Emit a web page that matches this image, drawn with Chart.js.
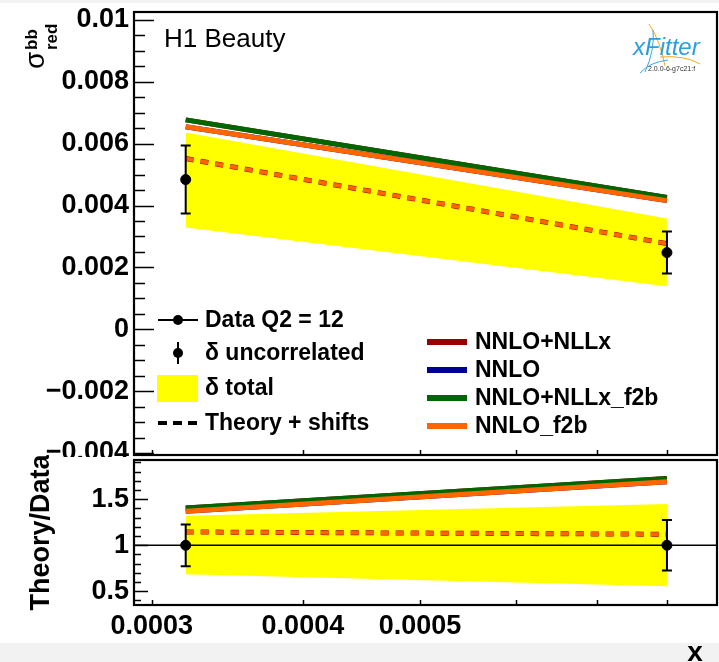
<!DOCTYPE html>
<html><head><meta charset="utf-8">
<script src="https://cdn.jsdelivr.net/npm/chart.js@4.4.1/dist/chart.umd.min.js"></script>
<style>
html,body{margin:0;padding:0;background:#fff;width:719px;height:662px;overflow:hidden;position:relative}
#topband{position:absolute;left:0;top:0;width:719px;height:3px;background:#f3f3f3}
#botband{position:absolute;left:0;top:643px;width:719px;height:19px;background:#f2f2f2}
canvas{position:absolute;left:0}
#c1{top:0;width:719px;height:457px}
#c2{top:455px;width:719px;height:207px}
</style></head><body>
<div id="topband"></div><div id="botband"></div>
<canvas id="c1" width="719" height="457"></canvas>
<canvas id="c2" width="719" height="207"></canvas>
<script>
const FONT = '"Liberation Sans", Arial, Helvetica, sans-serif';

// ---- data ----
const xValues = [0.00032, 0.0008];
const xTickValues = [0.0003, 0.0004, 0.0005, 0.0006, 0.0007, 0.0008];
const xTickLabels = ['0.0003', '0.0004', '0.0005', '', '', ''];
const yTickValuesTop = [-0.004, -0.002, 0, 0.002, 0.004, 0.006, 0.008, 0.01];
const yTickLabelsTop = ['\u22120.004', '\u22120.002', '0', '0.002', '0.004', '0.006', '0.008', '0.01'];
const yTickValuesRatio = [0.5, 1, 1.5];
const yTickLabelsRatio = ['0.5', '1', '1.5'];

const dataTop = [0.00484, 0.00248];
const uncTop = [0.00110, 0.00068];
const totHiTop = [0.00636, 0.00358];
const totLoTop = [0.00329, 0.00139];
const shiftTop = [0.00552, 0.00277];
const nnloNllxTop = [0.00677, 0.00426];
const nnloTop = [0.00655, 0.00416];
const nnloNllxF2bTop = [0.00677, 0.00426];
const nnloF2bTop = [0.00655, 0.00416];

const dataRatio = [1, 1];
const uncRatio = [0.227, 0.274];
const totHiRatio = [1.322, 1.45];
const totLoRatio = [0.685, 0.556];
const shiftRatio = [1.145, 1.12];
const nnloNllxRatio = [1.405, 1.725];
const nnloRatio = [1.37, 1.69];
const nnloNllxF2bRatio = [1.405, 1.725];
const nnloF2bRatio = [1.37, 1.69];

const C_RED = '#990000', C_BLUE = '#000099', C_GREEN = '#006600', C_ORANGE = '#ff6600', C_YELLOW = '#ffff00';

function pts(arr) { return xValues.map((x, i) => ({ x: x, y: arr[i] })); }

function makeDatasets(S) {
  const line = (label, arr, color, w, order, dash) => ({
    label, data: pts(arr), borderColor: color, borderWidth: w, pointRadius: 0,
    fill: false, order, borderDash: dash || [], borderCapStyle: 'butt', tension: 0
  });
  return [
    { label: '\u03b4 total', data: pts(S.hi), borderWidth: 0, pointRadius: 0, backgroundColor: C_YELLOW, fill: '+1', order: 20 },
    { label: '\u03b4 total (low)', data: pts(S.lo), borderWidth: 0, pointRadius: 0, fill: false, order: 21 },
    line('NNLO+NLLx', S.a, C_RED, 5, 9),
    line('NNLO', S.b, C_BLUE, 5, 8),
    line('NNLO+NLLx_f2b', S.c, C_GREEN, 5, 7),
    line('NNLO_f2b', S.d, C_ORANGE, 5, 6),
    line('Theory + shifts (NNLO+NLLx)', S.shift, C_RED, 5, 3, [8, 7]),
    line('Theory + shifts (NNLO_f2b)', S.shift, C_ORANGE, 4, 2, [8, 7]),
    { label: 'Data Q2 = 12', data: pts(S.data), showLine: false, pointRadius: 5, pointHoverRadius: 5,
      pointBackgroundColor: '#000', pointBorderColor: '#000', borderColor: '#000', order: 0 }
  ];
}

function labelFrom(values, labels) {
  return (v) => { const i = values.findIndex(t => Math.abs(t - v) < 1e-9); return i >= 0 ? labels[i] : ''; };
}

function axesPlugin(majorLen, minorLen, S, drawOne) {
  return {
    id: 'rootAxes',
    afterDatasetsDraw(chart) {
      const { ctx, chartArea: a, scales: { x, y } } = chart;
      ctx.save();
      ctx.beginPath(); ctx.rect(a.left, a.top, a.width, a.height); ctx.clip();
      if (drawOne) {
        const p = y.getPixelForValue(1);
        ctx.strokeStyle = '#000'; ctx.lineWidth = 1.5;
        ctx.beginPath(); ctx.moveTo(a.left, p); ctx.lineTo(a.right, p); ctx.stroke();
      }
      ctx.restore();
      ctx.save();
      ctx.strokeStyle = '#000'; ctx.lineWidth = 2;
      xValues.forEach((xv, i) => {
        const px = x.getPixelForValue(xv);
        const p1 = y.getPixelForValue(S.data[i] + S.unc[i]);
        const p2 = y.getPixelForValue(S.data[i] - S.unc[i]);
        ctx.beginPath();
        ctx.moveTo(px, p1); ctx.lineTo(px, p2);
        ctx.moveTo(px - 5, p1); ctx.lineTo(px + 5, p1);
        ctx.moveTo(px - 5, p2); ctx.lineTo(px + 5, p2);
        ctx.stroke();
      });
      ctx.restore();
    },
    afterDraw(chart) {
      const { ctx, chartArea: a, scales: { x, y } } = chart;
      ctx.save();
      ctx.strokeStyle = '#000'; ctx.lineWidth = 1.5;
      y.ticks.forEach((t) => {
        const py = Math.round(y.getPixelForValue(t.value)) + 0.5;
        const major = t.label !== '' && t.label !== undefined;
        const len = major ? majorLen : minorLen;
        ctx.beginPath(); ctx.moveTo(a.left, py); ctx.lineTo(a.left + len, py); ctx.stroke();
      });
      x.ticks.forEach((t) => {
        const px = Math.round(x.getPixelForValue(t.value)) + 0.5;
        ctx.beginPath(); ctx.moveTo(px, a.bottom); ctx.lineTo(px, a.bottom - 5); ctx.stroke();
      });
      ctx.lineWidth = 2.2;
      ctx.strokeRect(a.left, a.top, a.width, a.height);
      ctx.restore();
    }
  };
}

const topDecor = {
  id: 'topDecor',
  afterDraw(chart) {
    const ctx = chart.ctx;
    ctx.save();
    ctx.fillStyle = '#000';
    ctx.textBaseline = 'alphabetic';
    ctx.textAlign = 'left';
    ctx.font = '26px ' + FONT;
    ctx.fillText('H1 Beauty', 164, 47);

    // y-axis title: sigma^bb_red, rotated
    ctx.save();
    ctx.translate(44, 69);
    ctx.rotate(-Math.PI / 2);
    ctx.font = '28px ' + FONT;
    ctx.fillText('\u03c3', 0, 0);
    ctx.font = 'bold 17px ' + FONT;
    ctx.fillText('bb', 19, -7);
    ctx.fillText('red', 19, 13);
    ctx.restore();

    // legend, left column
    ctx.font = 'bold 23px ' + FONT;
    ctx.textBaseline = 'middle';
    ctx.strokeStyle = '#000';
    ctx.lineWidth = 2;
    ctx.beginPath(); ctx.moveTo(158, 320); ctx.lineTo(198, 320); ctx.stroke();
    ctx.beginPath(); ctx.arc(178, 320, 5, 0, 2 * Math.PI); ctx.fill();
    ctx.fillText('Data Q2 = 12', 205, 321);

    ctx.beginPath(); ctx.moveTo(178, 342); ctx.lineTo(178, 364); ctx.stroke();
    ctx.beginPath(); ctx.arc(178, 353, 5, 0, 2 * Math.PI); ctx.fill();
    ctx.fillText('\u03b4 uncorrelated', 205, 354);

    ctx.fillStyle = C_YELLOW;
    ctx.fillRect(157, 375, 41, 27);
    ctx.fillStyle = '#000';
    ctx.fillText('\u03b4 total', 205, 389);

    ctx.lineWidth = 4; ctx.setLineDash([9, 6]);
    ctx.beginPath(); ctx.moveTo(158, 423); ctx.lineTo(200, 423); ctx.stroke();
    ctx.setLineDash([]);
    ctx.fillText('Theory + shifts', 205, 424);

    // legend, right column
    const rc = [[C_RED, 'NNLO+NLLx', 342], [C_BLUE, 'NNLO', 370], [C_GREEN, 'NNLO+NLLx_f2b', 398], [C_ORANGE, 'NNLO_f2b', 426]];
    rc.forEach(([c, t, yy]) => {
      ctx.strokeStyle = c; ctx.lineWidth = 6;
      ctx.beginPath(); ctx.moveTo(427, yy); ctx.lineTo(467, yy); ctx.stroke();
      ctx.fillStyle = '#000';
      ctx.fillText(t, 475, yy + 1);
    });

    // xFitter logo
    ctx.lineWidth = 1;
    ctx.strokeStyle = '#f5a623';
    ctx.beginPath(); ctx.moveTo(649, 24); ctx.quadraticCurveTo(660, 40, 665, 66); ctx.stroke();
    ctx.beginPath(); ctx.moveTo(660, 57); ctx.quadraticCurveTo(685, 55, 700, 64); ctx.stroke();
    ctx.strokeStyle = '#3aa6e0';
    ctx.beginPath(); ctx.moveTo(653, 30); ctx.quadraticCurveTo(655, 50, 645, 72); ctx.stroke();
    ctx.beginPath(); ctx.moveTo(640, 73); ctx.quadraticCurveTo(650, 62, 668, 60); ctx.stroke();
    ctx.textBaseline = 'alphabetic';
    ctx.font = 'italic 24px ' + FONT;
    ctx.fillStyle = '#2a9fe0';
    ctx.fillText('xFitter', 633, 55);
    ctx.font = '7px ' + FONT;
    ctx.fillStyle = '#333';
    ctx.fillText('2.0.0-6-g7c21:f', 648, 71);
    ctx.restore();
  }
};

const botDecor = {
  id: 'botDecor',
  afterDraw(chart) {
    const ctx = chart.ctx;
    ctx.save();
    ctx.fillStyle = '#000';
    ctx.font = 'bold 28px ' + FONT;
    ctx.textAlign = 'center';
    ctx.textBaseline = 'alphabetic';
    ctx.fillText('x', 695, 206);
    ctx.restore();
  }
};

function noPad(s) { s.paddingTop = 0; s.paddingBottom = 0; s.paddingLeft = 0; s.paddingRight = 0; }

function xScale(showLabels, h) {
  return {
    type: 'logarithmic', position: 'bottom', min: 0.00029, max: 0.00088,
    grid: { display: false, drawTicks: false }, border: { display: false },
    afterBuildTicks: s => { s.ticks = xTickValues.map(v => ({ value: v })); },
    ticks: {
      display: showLabels, autoSkip: false, maxRotation: 0, padding: 5, color: '#000',
      font: { family: FONT, size: 27, weight: 'bold' },
      callback: labelFrom(xTickValues, xTickLabels)
    },
    afterFit: s => { s.height = h; noPad(s); }
  };
}

Chart.defaults.font.family = FONT;

new Chart(document.getElementById('c1'), {
  type: 'line',
  data: { datasets: makeDatasets({ hi: totHiTop, lo: totLoTop, a: nnloNllxTop, b: nnloTop, c: nnloNllxF2bTop, d: nnloF2bTop, shift: shiftTop, data: dataTop }) },
  options: {
    responsive: false, animation: false, devicePixelRatio: 1,
    layout: { autoPadding: false, padding: { top: 12, right: 2, left: 0, bottom: 0 } },
    plugins: { legend: { display: false }, tooltip: { enabled: false } },
    scales: {
      x: xScale(false, 2),
      y: {
        min: -0.004065, max: 0.010259,
        grid: { display: false, drawTicks: false }, border: { display: false },
        afterBuildTicks: s => { const t = []; for (let k = -8; k <= 20; k++) t.push({ value: k * 0.0005 }); s.ticks = t; },
        ticks: {
          autoSkip: false, padding: 5, color: '#000',
          font: { family: FONT, size: 27, weight: 'bold' },
          callback: labelFrom(yTickValuesTop, yTickLabelsTop)
        },
        afterFit: s => { s.width = 134; noPad(s); }
      }
    }
  },
  plugins: [axesPlugin(20, 11, { data: dataTop, unc: uncTop }, false), topDecor]
});

new Chart(document.getElementById('c2'), {
  type: 'line',
  data: { datasets: makeDatasets({ hi: totHiRatio, lo: totLoRatio, a: nnloNllxRatio, b: nnloRatio, c: nnloNllxF2bRatio, d: nnloF2bRatio, shift: shiftRatio, data: dataRatio }) },
  options: {
    responsive: false, animation: false, devicePixelRatio: 1,
    layout: { autoPadding: false, padding: { top: 5, right: 2, left: 0, bottom: 0 } },
    plugins: { legend: { display: false }, tooltip: { enabled: false } },
    scales: {
      x: xScale(true, 57),
      y: {
        min: 0.351, max: 1.927,
        grid: { display: false, drawTicks: false }, border: { display: false },
        afterBuildTicks: s => { const t = []; for (let k = 4; k <= 19; k++) t.push({ value: k / 10 }); s.ticks = t; },
        ticks: {
          autoSkip: false, padding: 5, color: '#000',
          font: { family: FONT, size: 27, weight: 'bold' },
          callback: labelFrom(yTickValuesRatio, yTickLabelsRatio)
        },
        title: { display: true, text: 'Theory/Data', color: '#000', font: { family: FONT, size: 27, weight: 'bold' }, padding: { top: 25, bottom: 0 } },
        afterFit: s => { s.width = 134; noPad(s); }
      }
    }
  },
  plugins: [axesPlugin(14, 7, { data: dataRatio, unc: uncRatio }, true), botDecor]
});
</script>
</body></html>
